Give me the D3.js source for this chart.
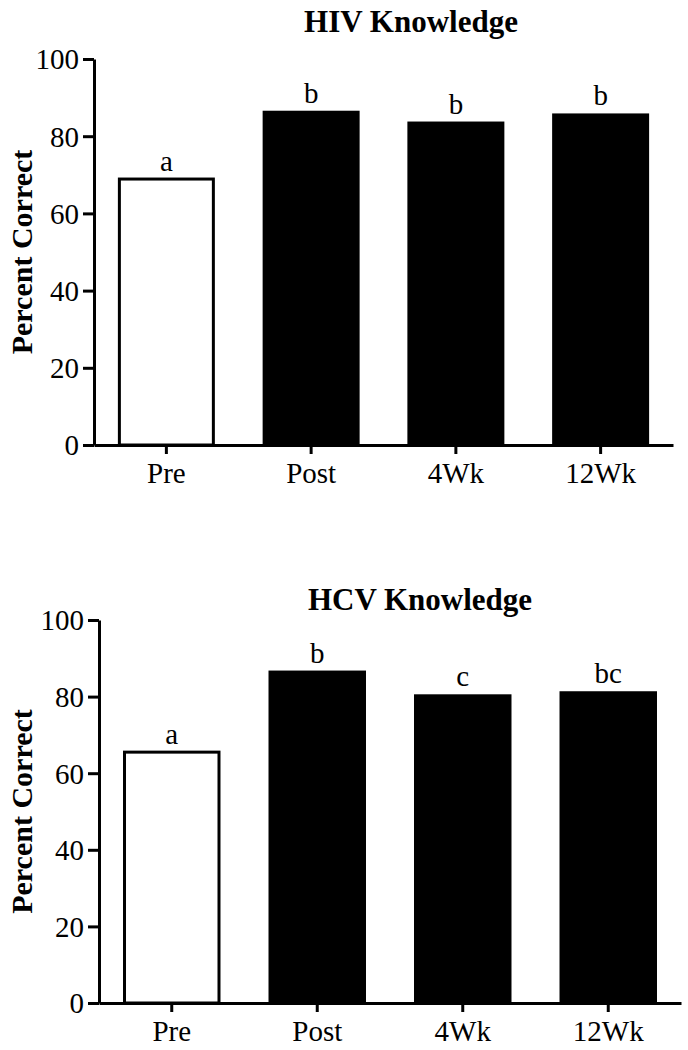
<!DOCTYPE html>
<html lang="en">
<head>
<meta charset="utf-8" />
<script src="https://cdnjs.cloudflare.com/ajax/libs/d3/7.8.5/d3.min.js"></script>
<style>
body { margin: 0; background: #fff; }
svg { font-family: "Liberation Serif", "Times New Roman", serif; }
.tick text { font-size: 29px; fill: #000; }
.letter { font-size: 29px; }
.title { font-size: 31px; font-weight: bold; }
.ylabel { font-size: 30px; font-weight: bold; }
</style>
</head>
<body>
<svg id="chart" width="688" height="1050"></svg>
<script>
var groups = ["Pre", "Post", "4Wk", "12Wk"];
var yTicks = [0, 20, 40, 60, 80, 100];

var hivValues = [68.9, 86.6, 83.8, 85.9];
var hivLetters = ["a", "b", "b", "b"];

var hcvValues = [65.5, 86.8, 80.6, 81.4];
var hcvLetters = ["a", "b", "c", "bc"];

var svg = d3.select("#chart");

function drawPanel(title, values, letters, box) {
  var x = d3.scaleBand()
      .domain(groups)
      .range([box.left, box.right])
      .paddingInner(0.33)
      .paddingOuter(0.165);

  var y = d3.scaleLinear()
      .domain([0, 100])
      .range([box.bottom, box.top]);

  var g = svg.append("g");

  // bars, first one hollow
  g.selectAll("rect.bar")
    .data(values)
    .enter().append("rect")
      .attr("class", "bar")
      .attr("x", function(d, i) { return x(groups[i]) + (i == 0 ? 1.5 : 0); })
      .attr("y", function(d) { return y(d); })
      .attr("width", function(d, i) { return x.bandwidth() - (i == 0 ? 3 : 0); })
      .attr("height", function(d) { return y(0) - y(d); })
      .attr("fill", function(d, i) { return i == 0 ? "#fff" : "#000"; })
      .attr("stroke", "#000")
      .attr("stroke-width", function(d, i) { return i == 0 ? 3 : 0; });

  g.selectAll("text.letter")
    .data(values)
    .enter().append("text")
      .attr("class", "letter")
      .attr("x", function(d, i) { return x(groups[i]) + x.bandwidth() / 2; })
      .attr("y", function(d) { return y(d) - 8; })
      .attr("text-anchor", "middle")
      .text(function(d, i) { return letters[i]; });

  var yAxis = g.append("g")
      .attr("transform", "translate(" + box.left + ",0)")
      .call(d3.axisLeft(y).tickValues(yTicks).tickSize(11).tickPadding(4).tickSizeOuter(0));

  var xAxis = g.append("g")
      .attr("transform", "translate(0," + box.bottom + ")")
      .call(d3.axisBottom(x).tickSize(9).tickPadding(8).tickSizeOuter(0));

  yAxis.attr("font-family", null).attr("font-size", null);
  xAxis.attr("font-family", null).attr("font-size", null);
  g.selectAll(".domain, .tick line")
      .attr("stroke", "#000")
      .attr("stroke-width", 3);
  yAxis.selectAll(".tick text").attr("dy", "0.34em");

  g.append("text")
      .attr("class", "title")
      .attr("x", box.titleX)
      .attr("y", box.titleY)
      .attr("text-anchor", "middle")
      .text(title);

  g.append("text")
      .attr("class", "ylabel")
      .attr("transform", "translate(" + 32 + "," + ((box.top + box.bottom) / 2) + ") rotate(-90)")
      .attr("text-anchor", "middle")
      .text("Percent Correct");
}

drawPanel("HIV Knowledge", hivValues, hivLetters,
  { left: 94, right: 673, top: 59, bottom: 445, titleX: 411, titleY: 32 });
drawPanel("HCV Knowledge", hcvValues, hcvLetters,
  { left: 99, right: 681, top: 620, bottom: 1003, titleX: 420, titleY: 610 });
</script>
</body>
</html>
